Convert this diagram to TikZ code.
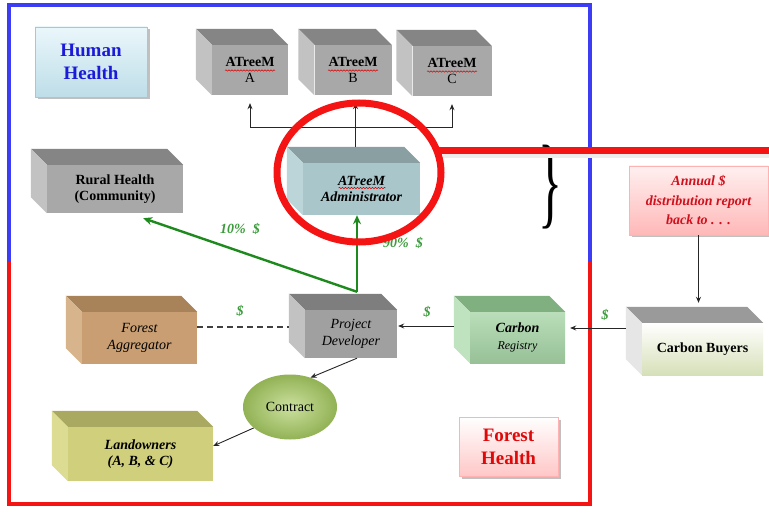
\documentclass[tikz,border=0pt]{standalone}
\usepackage{fontspec}
\setmainfont{Liberation Serif}
\usepackage{graphicx}
\usetikzlibrary{shapes.geometric,shadows,arrows.meta,decorations.pathmorphing}
\definecolor{frameblue}{HTML}{3C3CF5}
\definecolor{framered}{HTML}{F51414}
\definecolor{gfront}{HTML}{A8A8A8}
\definecolor{gtop}{HTML}{858585}
\definecolor{gside}{HTML}{C2C2C2}
\definecolor{afront}{HTML}{A9C6CA}
\definecolor{atop}{HTML}{8A9FA2}
\definecolor{aside}{HTML}{BCD5D8}
\definecolor{rfront}{HTML}{A8D6A8}
\definecolor{rtop}{HTML}{80B080}
\definecolor{rside}{HTML}{BEE3BE}
\definecolor{bfront}{HTML}{C89E72}
\definecolor{btop}{HTML}{A88259}
\definecolor{bside}{HTML}{D8B48C}
\definecolor{lfront}{HTML}{CFCF7C}
\definecolor{ltop}{HTML}{A9A961}
\definecolor{lside}{HTML}{DCDC92}
\definecolor{cbtop}{HTML}{9A9A9A}
\definecolor{cbside}{HTML}{E6E6E6}
\definecolor{cbbot}{HTML}{D6E0B8}
\definecolor{arrgreen}{HTML}{1E8A1E}
\definecolor{labgreen}{HTML}{3C9C3C}
\definecolor{hblue}{HTML}{1A1AD8}
\definecolor{hred}{HTML}{E00808}
\definecolor{ared}{HTML}{D0101C}
\definecolor{ctin}{HTML}{CBE09E}
\definecolor{ctout}{HTML}{92B255}
\definecolor{htop}{HTML}{EAF7FB}
\definecolor{hbot}{HTML}{BEDDE8}
\newcommand\fA{\fontsize{14}{16.5}\selectfont}
\newcommand\fB{\fontsize{19}{23}\selectfont}
\newcommand\cubebox[8]{%
 \node[cubefront, #5, minimum width=#3pt, minimum height=#4pt] (#1) at (#2) {#8};
 \fill[#6] (#1.north west) -- ([shift={(-16,-16)}]#1.north west) -- ([shift={(-16,-16)}]#1.north east) -- (#1.north east) -- cycle;
 \fill[#7] (#1.north west) -- ([shift={(-16,-16)}]#1.north west) -- ([shift={(-16,-16)}]#1.south west) -- (#1.south west) -- cycle;
}
\tikzset{
 cubefront/.style={inner sep=0pt, align=center, draw=none, font=\fA},
 flatbox/.style={line width=0.5pt, align=center, inner sep=0pt,
   drop shadow={shadow xshift=2.5pt, shadow yshift=-2.5pt, opacity=0.35, fill=black!70}},
 conn/.style={->, line width=0.9pt, draw=black!85},
 greenconn/.style={-{Stealth[length=9pt,width=8pt]}, line width=2.4pt, draw=arrgreen},
 glabel/.style={text=labgreen, font=\fontsize{14}{16}\selectfont\bfseries\itshape},
 squiggle/.style={draw=red!85!black, line width=0.5pt, decorate, decoration={snake, segment length=3pt, amplitude=0.7pt}},
 >={Stealth[length=6pt,width=5pt]}
}
\begin{document}
\begin{tikzpicture}[x=1pt,y=-1pt]
\useasboundingbox (0,0) rectangle (769,513);
\fill[white] (0,0) rectangle (769,513);

% outer frame
\draw[frameblue, line width=3.2pt] (9,262) -- (9,5) -- (590,5) -- (590,262);
\draw[framered, line width=3.2pt] (9,262) -- (9,504) -- (590,504) -- (590,262);

% flat label boxes
\node[flatbox, draw=black!25, top color=htop, bottom color=hbot,
  minimum width=112pt, minimum height=70pt, text=hblue, font=\fB\bfseries] (human) at (91,62) {Human\\Health};
\node[flatbox, draw=red!30, top color=white, bottom color=red!22,
  minimum width=99pt, minimum height=59pt, text=hred, font=\fB\bfseries] (foresth) at (508.5,446.5) {Forest\\Health};
\node[flatbox, draw=red!30, top color=red!6, bottom color=red!28,
  minimum width=139pt, minimum height=69pt, text=ared, font=\fontsize{14}{19.5}\selectfont\bfseries\itshape] (annual) at (698.5,200.5) {Annual \$\\distribution report\\back to . . .};

% cubes
\cubebox{atA}{250,70}{76}{50}{fill=gfront}{fill=gtop}{fill=gside}{\textbf{ATreeM}\\A}
\cubebox{atB}{353,70}{77}{50}{fill=gfront}{fill=gtop}{fill=gside}{\textbf{ATreeM}\\B}
\cubebox{atC}{452,71}{79}{50}{fill=gfront}{fill=gtop}{fill=gside}{\textbf{ATreeM}\\C}
\cubebox{admin}{361.5,189}{117}{52}{fill=afront, font=\fA\bfseries\itshape}{fill=atop}{fill=aside}{ATreeM\\Administrator}
\cubebox{rural}{115,189}{136}{48}{fill=gfront, font=\fA\bfseries}{fill=gtop}{fill=gside}{Rural Health\\(Community)}
\cubebox{pd}{351,334}{92}{48}{fill=gfront!95!black, font=\fA\itshape}{fill=gtop!95!black}{fill=gside}{Project\\Developer}
\cubebox{agg}{139.5,338}{115}{52}{fill=bfront, font=\fA\itshape}{fill=btop}{fill=bside}{Forest\\Aggregator}
\cubebox{registry}{517.5,337.5}{95}{51}{top color=rfront!80!white, bottom color=rfront!90!black, font=\fA\bfseries\itshape}{fill=rtop}{fill=rside}{Carbon\\{\fontsize{12}{15}\selectfont\mdseries Registry}}
\cubebox{buyers}{702.5,349}{121}{52}{top color=white, bottom color=cbbot, font=\fA\bfseries}{fill=cbtop}{fill=cbside}{Carbon Buyers}
\cubebox{landowners}{140.5,454}{145}{54}{fill=lfront, font=\fA\bfseries\itshape}{fill=ltop}{fill=lside}{Landowners\\(A, B, \& C)}

% spell-check squiggles under ATreeM
\draw[squiggle] ([shift={(-25,0.5)}]atA.center) -- ([shift={(25,0.5)}]atA.center);
\draw[squiggle] ([shift={(-25,0.5)}]atB.center) -- ([shift={(25,0.5)}]atB.center);
\draw[squiggle] ([shift={(-25,0.5)}]atC.center) -- ([shift={(25,0.5)}]atC.center);
\draw[squiggle] ([shift={(-23,-1)}]admin.center) -- ([shift={(24,-1)}]admin.center);

% contract ellipse
\node[ellipse, inner color=ctin, outer color=ctout, minimum width=94pt, minimum height=65pt,
  inner sep=0pt, font=\fA] (contract) at (290,407) {Contract};

% administrator to ATreeM A, B, C
\coordinate (admtop) at ([shift={(-6,-16)}]admin.north);
\coordinate (ylev) at (0,127);
\coordinate (hub) at (admtop |- ylev);
\draw[conn, shorten >=8pt] (admtop) -- (admtop |- atB.south);
\draw[conn, shorten >=8pt] (hub) -| (atA.south);
\draw[conn, shorten >=8pt] (hub) -| (atC.south);

% green money arrows
\coordinate (gs) at ([shift={(6,-18)}]pd.north);
\draw[greenconn] (gs) -- (gs |- admin.south);
\draw[greenconn] (gs) -- ([shift={(-40,5)}]rural.south east);
\node[glabel] at (240,229) {10\%\ \ \$};
\node[glabel] at (403,243) {90\%\ \ \$};

% lower flows
\coordinate (y327) at (0,327);
\coordinate (pdback) at ([xshift=-16pt]pd.west);
\draw[black!75, line width=1.3pt, dash pattern=on 6pt off 4pt] (agg.east |- y327) -- (pdback |- y327);
\node[glabel] at (240,311) {\$};

\coordinate (y326) at (0,326);
\coordinate (rs) at ([xshift=-16pt]registry.west);
\draw[conn, shorten >=1pt] (rs |- y326) -- (pd.east |- y326);
\node[glabel] at (427,312) {\$};

\coordinate (y328) at (0,328);
\coordinate (bs) at ([xshift=-16pt]buyers.west);
\draw[conn, shorten >=5pt] (bs |- y328) -- (registry.east |- y328);
\node[glabel] at (605,315) {\$};

\draw[conn, shorten >=20pt] (annual.south) -- (annual.south |- buyers.north);

\draw[conn] ([xshift=6pt]pd.south) -- (contract.55);
\draw[conn] (contract.210) -- ([yshift=8pt]landowners.east);

% brace and red highlight
\node[inner sep=0pt] (brace) at (550,187) {\resizebox*{24pt}{84pt}{\}}};
\node[ellipse, draw=framered, line width=7pt, minimum width=164pt, minimum height=139pt, inner sep=0pt, outer sep=0pt] (ring) at (359,172.5) {};
\coordinate (xr) at (769,0);
\draw[black!7, line width=4pt] ([shift={(6,6)}]ring.16) -- ([yshift=-6pt]ring.16 -| xr);
\draw[framered, line width=7pt] ([xshift=2pt]ring.16) -- (ring.16 -| xr);
\end{tikzpicture}
\end{document}
